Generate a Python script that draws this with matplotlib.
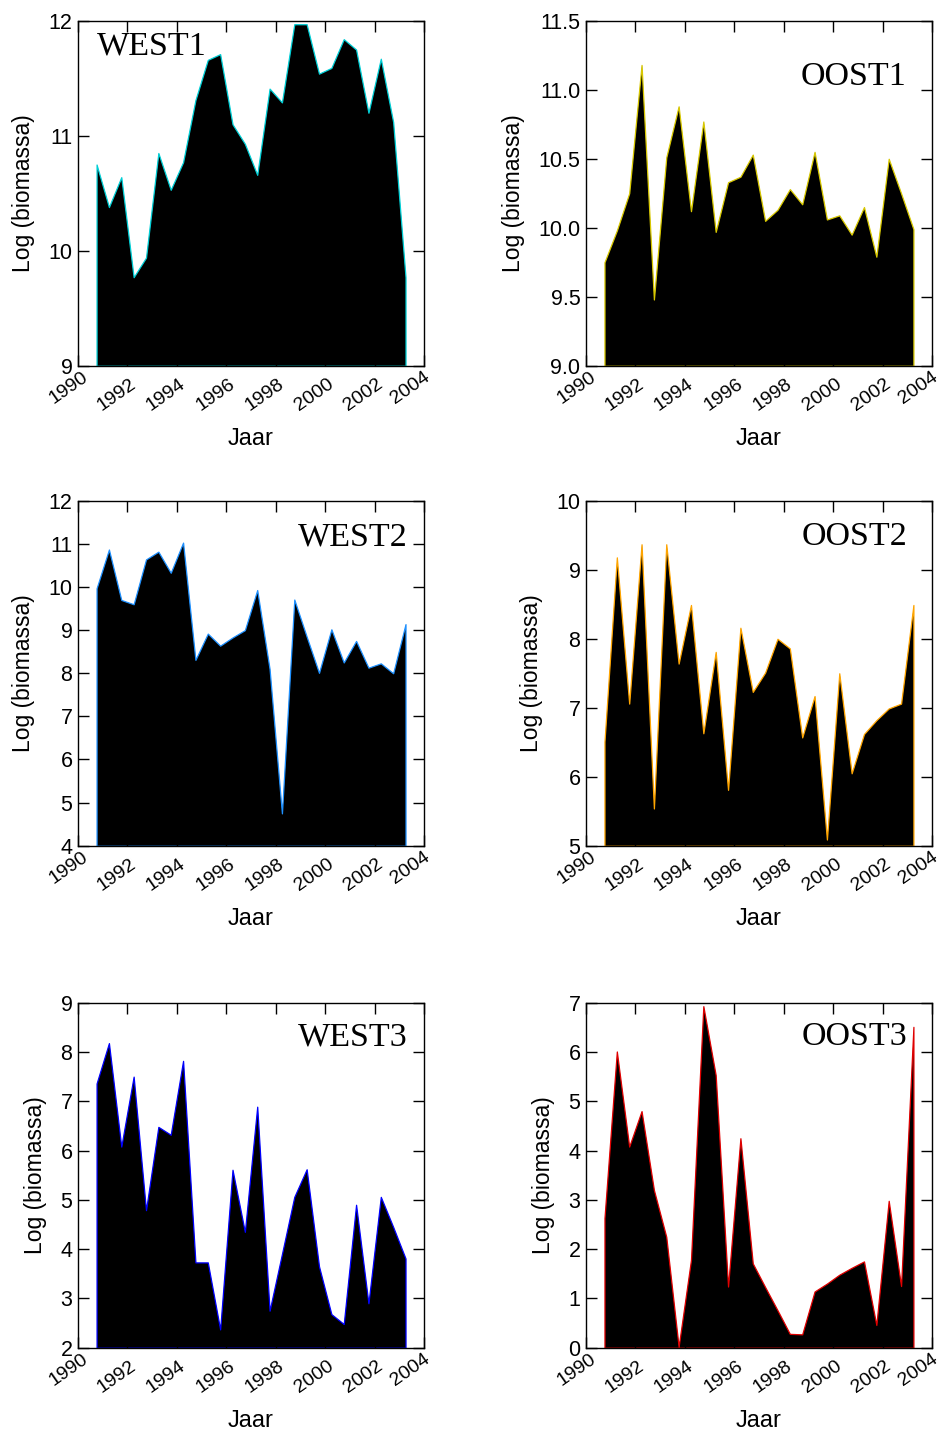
import numpy as np
import matplotlib
matplotlib.use("Agg")
import matplotlib.pyplot as plt
from matplotlib.transforms import ScaledTranslation

# half-yearly samples, 1990.75 .. 2003.25
years = [1990.75, 1991.25, 1991.75, 1992.25, 1992.75, 1993.25, 1993.75, 1994.25,
         1994.75, 1995.25, 1995.75, 1996.25, 1996.75, 1997.25, 1997.75, 1998.25,
         1998.75, 1999.25, 1999.75, 2000.25, 2000.75, 2001.25, 2001.75, 2002.25,
         2002.75, 2003.25]

west1 = [10.75, 10.38, 10.64, 9.77, 9.94, 10.85, 10.53, 10.77, 11.31, 11.66,
         11.71, 11.10, 10.93, 10.66, 11.41, 11.29, 11.97, 11.97, 11.54, 11.59,
         11.84, 11.75, 11.20, 11.67, 11.12, 9.77]
oost1 = [9.75, 9.98, 10.25, 11.18, 9.48, 10.51, 10.88, 10.12, 10.77, 9.97,
         10.33, 10.37, 10.53, 10.05, 10.13, 10.28, 10.17, 10.55, 10.06, 10.09,
         9.95, 10.15, 9.79, 10.50, 10.25, 9.99]
west2 = [9.97, 10.87, 9.70, 9.60, 10.64, 10.82, 10.33, 11.03, 8.31, 8.92,
         8.64, 8.83, 9.00, 9.93, 8.10, 4.75, 9.71, 8.85, 8.01, 9.02,
         8.25, 8.75, 8.13, 8.23, 8.00, 9.14]
oost2 = [6.51, 9.18, 7.06, 9.37, 5.54, 9.37, 7.64, 8.49, 6.63, 7.81,
         5.81, 8.16, 7.23, 7.51, 8.00, 7.86, 6.57, 7.17, 5.09, 7.50,
         6.05, 6.62, 6.82, 6.99, 7.06, 8.49]
west3 = [7.36, 8.18, 6.08, 7.50, 4.79, 6.48, 6.32, 7.82, 3.73, 3.73,
         2.37, 5.61, 4.35, 6.89, 2.75, 3.90, 5.06, 5.62, 3.65, 2.68,
         2.48, 4.90, 2.90, 5.06, 4.45, 3.81]
oost3 = [2.63, 6.01, 4.08, 4.80, 3.20, 2.25, 0.02, 1.78, 6.93, 5.53,
         1.24, 4.25, 1.71, 1.23, 0.76, 0.28, 0.27, 1.14, 1.30, 1.48,
         1.62, 1.75, 0.46, 2.98, 1.25, 6.51]

names = ["WEST1", "OOST1", "WEST2", "OOST2", "WEST3", "OOST3"]
series = [west1, oost1, west2, oost2, west3, oost3]
edge_colors = ["#00cfd6", "#d8c800", "#1e90ff", "#ffa500", "#0000ff", "#e00000"]
ylims = [(9, 12), (9, 11.5), (4, 12), (5, 10), (2, 9), (0, 7)]
yticks = [[9, 10, 11, 12],
          [9.0, 9.5, 10.0, 10.5, 11.0, 11.5],
          [4, 5, 6, 7, 8, 9, 10, 11, 12],
          [5, 6, 7, 8, 9, 10],
          [2, 3, 4, 5, 6, 7, 8, 9],
          [0, 1, 2, 3, 4, 5, 6, 7]]
xticks = [1990, 1992, 1994, 1996, 1998, 2000, 2002, 2004]

plt.rcParams['font.family'] = ['Liberation Sans', 'DejaVu Sans']

fig = plt.figure(figsize=(9.39, 14.32), dpi=100)

lefts = [0.0831, 0.624]
bottoms = [0.7446, 0.4094, 0.0589]
w, h = 0.3685, 0.2409

# label placement per panel (axes fraction)
label_pos = [(0.054, 0.925, 'left'), (0.927, 0.837, 'right'),
             (0.952, 0.895, 'right'), (0.930, 0.896, 'right'),
             (0.952, 0.900, 'right'), (0.930, 0.900, 'right')]


def year_offset(x):
    # the first and last year labels sit a little higher than the rest
    if x == xticks[0]:
        return ScaledTranslation(-0.09, -0.225, fig.dpi_scale_trans)
    if x == xticks[-1]:
        return ScaledTranslation(-0.14, -0.225, fig.dpi_scale_trans)
    return ScaledTranslation(-0.11, -0.29, fig.dpi_scale_trans)


for i, name in enumerate(names):
    row, col = i // 2, i % 2
    ax = fig.add_axes([lefts[col], bottoms[row], w, h])
    lo, hi = ylims[i]
    ax.fill_between(years, series[i], lo, facecolor='black',
                    edgecolor=edge_colors[i], linewidth=0.9)
    ax.set_xlim(1990, 2004)
    ax.set_ylim(lo, hi)
    ax.set_xticks(xticks)
    ax.set_xticklabels([])
    for x in xticks:
        ax.text(x, 0, str(x), transform=ax.get_xaxis_transform() + year_offset(x),
                ha='center', va='center', rotation=35, fontsize=14)
    ax.set_yticks(yticks[i])
    if i == 1:
        ax.set_yticklabels(["%.1f" % v for v in yticks[i]])
    ax.tick_params(direction='in', length=8, width=1, top=True, right=True,
                   labelsize=15.5, pad=4)
    for s in ax.spines.values():
        s.set_linewidth(1)
    ax.set_xlabel('Jaar', fontsize=17, va='center')
    ax.xaxis.set_label_coords(0.5, -0.212)
    ax.set_ylabel('Log (biomassa)', fontsize=16.5, labelpad=9.5)
    lx, ly, ha = label_pos[i]
    ax.text(lx, ly, name, transform=ax.transAxes, ha=ha, va='center',
            fontsize=24.5, family='Liberation Serif')

fig.savefig('out.png', dpi=100)
